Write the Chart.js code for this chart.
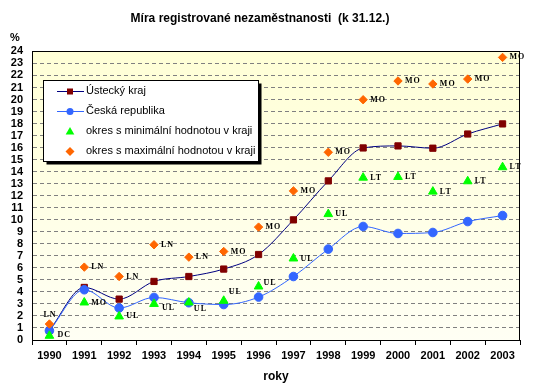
<!DOCTYPE html>
<html>
<head>
<meta charset="utf-8">
<script src="https://cdn.jsdelivr.net/npm/chart.js@4/dist/chart.umd.min.js"></script>
<style>
body{margin:0;background:#fff;}
#wrap{width:542px;height:392px;}
</style>
</head>
<body>
<div id="wrap"><canvas id="myChart"></canvas></div>
<script>
var years = ['1990','1991','1992','1993','1994','1995','1996','1997','1998','1999','2000','2001','2002','2003'];
var ustecky = [0.8,4.37,3.4,4.87,5.28,5.9,7.11,9.99,13.23,15.97,16.14,15.95,17.13,17.97];
var cesko = [0.77,4.18,2.66,3.54,3.1,2.95,3.57,5.28,7.56,9.44,8.86,8.94,9.85,10.35];
var minVals = [0.35,3.12,1.96,3.0,3.12,3.26,4.45,6.78,10.47,13.5,13.56,12.34,13.2,14.37];
var maxVals = [1.33,6.06,5.28,7.92,6.89,7.36,9.39,12.4,15.61,19.98,21.54,21.29,21.7,23.5];
var minOkres = ['DC','MO','UL','UL','UL','UL','UL','UL','UL','LT','LT','LT','LT','LT'];
var maxOkres = ['LN','LN','LN','LN','LN','MO','MO','MO','MO','MO','MO','MO','MO','MO'];

var FONT = '"Liberation Sans", Arial, sans-serif';

// label offsets (px) where the district label is not simply right of the marker
var minShift = {0:[8,-1],3:[8,4],4:[5,6],5:[5,-9],6:[5,-4]};
var maxShift = {0:[-6,-9]};

function drawTri(ctx,x,y,r){
  ctx.beginPath();
  ctx.moveTo(x,y-r);
  ctx.lineTo(x+r*0.866,y+r*0.5);
  ctx.lineTo(x-r*0.866,y+r*0.5);
  ctx.closePath();ctx.fill();
}
function drawDia(ctx,x,y,r){
  ctx.beginPath();
  ctx.moveTo(x,y-r);ctx.lineTo(x+r,y);ctx.lineTo(x,y+r);ctx.lineTo(x-r,y);
  ctx.closePath();ctx.fill();
}

var extras = {
  id:'extras',
  beforeDraw:function(chart){
    var ctx=chart.ctx, a=chart.chartArea;
    ctx.save();
    ctx.fillStyle='#fff';
    ctx.fillRect(0,0,chart.width,chart.height);
    var g=ctx.createLinearGradient(0,a.top,0,a.bottom);
    g.addColorStop(0,'#ffffd6');
    g.addColorStop(1,'#fffff4');
    ctx.fillStyle=g;
    ctx.fillRect(a.left,a.top,a.right-a.left,a.bottom-a.top);
    ctx.restore();
  },
  afterDatasetsDraw:function(chart){
    var ctx=chart.ctx, a=chart.chartArea;
    ctx.save();
    // frame of plot area
    ctx.strokeStyle='#000';ctx.lineWidth=1;
    ctx.strokeRect(Math.round(a.left)+0.5,Math.round(a.top)+0.5,Math.round(a.right-a.left)-1,Math.round(a.bottom-a.top));

    // district labels
    ctx.fillStyle='#000';
    ctx.font='bold 8px "Liberation Serif", serif';
    ctx.letterSpacing='1px';
    ctx.textBaseline='middle';ctx.textAlign='left';
    var mMin=chart.getDatasetMeta(2), mMax=chart.getDatasetMeta(3);
    for(var i=0;i<years.length;i++){
      var p=mMin.data[i], s=minShift[i]||[7,0];
      ctx.fillText(minOkres[i],p.x+s[0],p.y+s[1]);
      p=mMax.data[i]; s=maxShift[i]||[7,0];
      ctx.fillText(maxOkres[i],p.x+s[0],p.y+s[1]);
    }
    ctx.letterSpacing='0px';

    // % sign
    ctx.font='bold 11px '+FONT;
    ctx.fillText('%',10,38);

    // legend box
    var lx=43.5, ly=80.5, lw=215, lh=81;
    ctx.fillStyle='#000';
    ctx.fillRect(lx+3,ly+3,lw,lh);
    ctx.fillStyle='#fff';
    ctx.fillRect(lx,ly,lw,lh);
    ctx.strokeStyle='#000';ctx.lineWidth=1;
    ctx.strokeRect(lx,ly,lw,lh);

    var rows=[91,111,131,151];
    ctx.lineWidth=1;
    ctx.strokeStyle='#000080';
    ctx.beginPath();ctx.moveTo(57,rows[0]+0.5);ctx.lineTo(84,rows[0]+0.5);ctx.stroke();
    ctx.fillStyle='#800000';ctx.fillRect(67,rows[0]-2.5,6,6);
    ctx.strokeStyle='#3366ff';
    ctx.beginPath();ctx.moveTo(57,rows[1]+0.5);ctx.lineTo(84,rows[1]+0.5);ctx.stroke();
    ctx.fillStyle='#3366ff';ctx.beginPath();ctx.arc(70,rows[1]+0.5,3.5,0,Math.PI*2);ctx.fill();
    ctx.fillStyle='#00ff00';drawTri(ctx,70,rows[2]+1,5);
    ctx.fillStyle='#ff6600';drawDia(ctx,70,rows[3]+0.5,4.5);

    ctx.fillStyle='#000';
    ctx.font='11px '+FONT;
    ctx.fillText('Ústecký kraj',86,rows[0]);
    ctx.fillText('Česká republika',86,rows[1]);
    ctx.fillText('okres s minimální hodnotou v kraji',86,rows[2]);
    ctx.fillText('okres s maximální hodnotou v kraji',86,rows[3]);
    ctx.restore();
  }
};

var ctx = document.getElementById('myChart').getContext('2d');
var chart = new Chart(ctx, {
  type:'line',
  data:{
    labels:years,
    datasets:[{
      label:'Ústecký kraj',
      data:ustecky,
      borderColor:'#000080',
      borderWidth:1,
      backgroundColor:'#800000',
      pointBackgroundColor:'#800000',
      pointBorderColor:'#800000',
      pointStyle:'rect',
      pointRadius:4.4,
      cubicInterpolationMode:'monotone',
      order:4
    },{
      label:'Česká republika',
      data:cesko,
      borderColor:'#3366ff',
      borderWidth:1,
      backgroundColor:'#3366ff',
      pointBackgroundColor:'#3366ff',
      pointBorderColor:'#3366ff',
      pointStyle:'circle',
      pointRadius:4.3,
      cubicInterpolationMode:'monotone',
      order:3
    },{
      label:'okres s minimální hodnotou v kraji',
      data:minVals,
      showLine:false,
      backgroundColor:'#00ff00',
      pointBackgroundColor:'#00ff00',
      pointBorderColor:'#00ff00',
      pointStyle:'triangle',
      pointRadius:5,
      order:2
    },{
      label:'okres s maximální hodnotou v kraji',
      data:maxVals,
      showLine:false,
      backgroundColor:'#ff6600',
      pointBackgroundColor:'#ff6600',
      pointBorderColor:'#ff6600',
      pointStyle:'rectRot',
      pointRadius:4.2,
      order:1
    }]
  },
  options:{
    responsive:true,
    maintainAspectRatio:false,
    animation:false,
    layout:{padding:{left:0,right:22,top:0,bottom:0}},
    plugins:{
      legend:{display:false},
      tooltip:{enabled:false},
      title:{
        display:true,
        text:'Míra registrované nezaměstnanosti  (k 31.12.)',
        color:'#000',
        font:{family:FONT,size:12,weight:'bold'},
        padding:{top:11,bottom:26}
      }
    },
    scales:{
      x:{
        offset:true,
        grid:{drawOnChartArea:false,drawTicks:true,tickLength:5,color:'#000',offset:true},
        border:{color:'#000',width:1},
        ticks:{color:'#000',font:{family:FONT,size:11,weight:'bold'},padding:4,maxRotation:0,autoSkip:false},
        title:{display:true,text:'roky',color:'#000',font:{family:FONT,size:12,weight:'bold'},padding:{top:4,bottom:8}},
        afterFit:function(s){s.height=52;}
      },
      y:{
        min:0,max:24,
        ticks:{stepSize:1,autoSkip:false,color:'#000',font:{family:FONT,size:11,weight:'bold'},padding:9},
        grid:{drawTicks:false,color:function(c){
          if(c.tick && (c.tick.value===0 || c.tick.value===24)) return 'rgba(0,0,0,0)';
          return '#808080';
        }},
        border:{color:'#000',width:1,dash:[4,3]},
        afterFit:function(s){s.width=32;}
      }
    }
  },
  plugins:[extras]
});
</script>
</body>
</html>
